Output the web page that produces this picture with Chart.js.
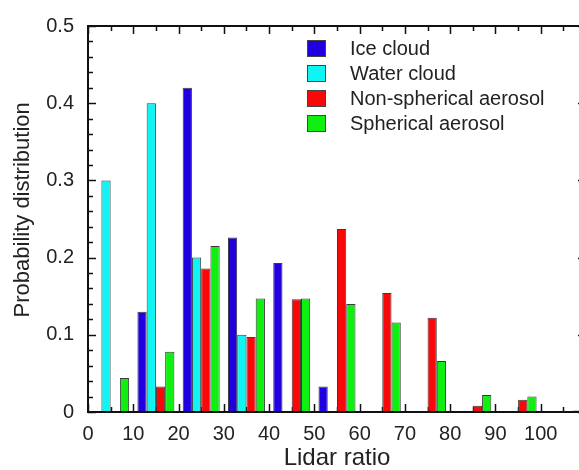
<!DOCTYPE html>
<html>
<head>
<meta charset="utf-8">
<script src="https://cdn.jsdelivr.net/npm/chart.js@4.4.0/dist/chart.umd.min.js"></script>
<style>
  html, body { margin: 0; padding: 0; background: #fff; overflow: hidden; }
  #wrap { width: 600px; height: 470px; }
</style>
</head>
<body>
<div id="wrap"><canvas id="lidarChart" width="600" height="470"></canvas></div>
<script>
// bin centres of the lidar ratio histogram (10 sr wide bins)
var binCenters = [5, 15, 25, 35, 45, 55, 65, 75, 85, 95, 105];
var iceCloud     = [0, 0.13, 0.42, 0.226, 0.193, 0.033, 0, 0, 0, 0, 0];
var waterCloud   = [0.30, 0.40, 0.20, 0.10, 0, 0, 0, 0, 0, 0, 0];
var nonSpherical = [0, 0.033, 0.186, 0.097, 0.146, 0.237, 0.154, 0.122, 0.008, 0.016, 0];
var spherical    = [0.044, 0.078, 0.215, 0.147, 0.147, 0.140, 0.116, 0.066, 0.022, 0.020, 0.002];
var xTicks = [0, 10, 20, 30, 40, 50, 60, 70, 80, 90, 100];

function toPoints(values) {
  return values.map(function (v, i) { return { x: binCenters[i], y: v }; });
}

var FONT = '"Liberation Sans", Arial, Helvetica, sans-serif';

// frame and inward ticks, like the original plot
var framePlugin = {
  id: 'frame',
  beforeDatasetsDraw: function (chart) {
    var ctx = chart.ctx, a = chart.chartArea;
    var xs = chart.scales.x, ys = chart.scales.y;
    ctx.save();
    ctx.strokeStyle = '#111';
    ctx.lineWidth = 1.5;
    ctx.beginPath();
    for (var v = 0; v <= 110; v += 5) {
      var px = Math.round(xs.getPixelForValue(v)) + 0.5;
      var len = v % 10 === 0 ? 8 : 5;
      ctx.moveTo(px, a.bottom); ctx.lineTo(px, a.bottom - len);
      ctx.moveTo(px, a.top); ctx.lineTo(px, a.top + len);
    }
    for (var k = 0; k <= 25; k++) {
      var py = Math.round(ys.getPixelForValue(k * 0.02)) + 0.5;
      var l = k % 5 === 0 ? 8 : 5;
      ctx.moveTo(a.left, py); ctx.lineTo(a.left + l, py);
      ctx.moveTo(a.right, py); ctx.lineTo(a.right - l, py);
    }
    ctx.stroke();
    ctx.restore();
  },
  afterDatasetsDraw: function (chart) {
    var ctx = chart.ctx, a = chart.chartArea;
    ctx.save();
    ctx.strokeStyle = '#111';
    ctx.lineWidth = 2;
    ctx.strokeRect(a.left, a.top, a.right - a.left, a.bottom - a.top);

    // legend inside the plot
    var x0 = 307, y0 = 40, rowH = 25;
    ctx.font = '20px ' + FONT;
    ctx.textBaseline = 'middle';
    chart.data.datasets.forEach(function (ds, i) {
      var y = y0 + i * rowH;
      ctx.fillStyle = ds.backgroundColor;
      ctx.fillRect(x0, y, 19, 17);
      ctx.lineWidth = 1;
      ctx.strokeStyle = '#444';
      ctx.strokeRect(x0 + 0.5, y + 0.5, 18, 16);
      ctx.fillStyle = '#222';
      ctx.fillText(ds.label, 350, y + 9);
    });
    ctx.restore();
  }
};

var ctx = document.getElementById('lidarChart');
var chart = new Chart(ctx, {
  type: 'bar',
  data: {
    datasets: [
      { label: 'Ice cloud', data: toPoints(iceCloud), backgroundColor: '#2000e0' },
      { label: 'Water cloud', data: toPoints(waterCloud), backgroundColor: '#10f4f4' },
      { label: 'Non-spherical aerosol', data: toPoints(nonSpherical), backgroundColor: '#f80808' },
      { label: 'Spherical aerosol', data: toPoints(spherical), backgroundColor: '#10f010' }
    ]
  },
  options: {
    responsive: false,
    animation: false,
    datasets: {
      bar: {
        borderColor: '#3a3a3a',
        borderWidth: 1,
        categoryPercentage: 0.817,
        barPercentage: 1.0
      }
    },
    layout: {
      padding: { left: 0, top: 17, right: 14, bottom: 0 }
    },
    plugins: {
      legend: { display: false },
      tooltip: { enabled: false }
    },
    scales: {
      x: {
        type: 'linear',
        offset: false,
        min: 0,
        max: 110,
        afterFit: function (scale) { scale.height = 58; },
        afterBuildTicks: function (scale) {
          scale.ticks = xTicks.map(function (v) { return { value: v }; });
        },
        grid: { display: false, drawTicks: false },
        border: { display: false },
        ticks: {
          padding: 10,
          color: '#222',
          font: { family: FONT, size: 20 }
        },
        title: {
          display: true,
          text: 'Lidar ratio',
          color: '#222',
          padding: { top: 0, bottom: 0 },
          font: { family: FONT, size: 24, lineHeight: 1 }
        }
      },
      y: {
        min: 0,
        max: 0.5,
        afterFit: function (scale) { scale.width = 88; },
        grid: { display: false, drawTicks: false },
        border: { display: false },
        ticks: {
          stepSize: 0.1,
          padding: 14,
          color: '#222',
          font: { family: FONT, size: 20 }
        },
        title: {
          display: true,
          text: '   Probability distribution',
          color: '#222',
          padding: { top: 10, bottom: 0 },
          font: { family: FONT, size: 22 }
        }
      }
    }
  },
  plugins: [framePlugin]
});
</script>
</body>
</html>
